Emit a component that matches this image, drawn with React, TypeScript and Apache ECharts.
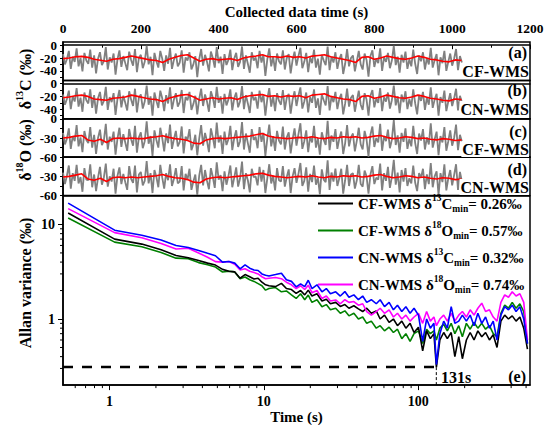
import React, { useEffect, useRef } from "react";
import * as echarts from "echarts";

const FONT = "'Liberation Serif', 'DejaVu Serif', serif";

// ---- time-series panels (a)-(d) ----
const grayStep = 5; // s between plotted raw samples
const redStep = 16; // s between plotted smoothed samples
const timeMax = 1200;
const timeInterval = 200;

const grayA = [
  -14,-30,-22,-9,-37,-18,-26,-5,-33,-20,-41,-12,-24,-29,-7,-35,-16,-44,-21,-11,
  -31,-25,-3,-38,-19,-27,-13,-46,-22,-8,-34,-17,-28,-39,-10,-23,-32,-6,-42,-20,
  -15,-36,-26,-1,-30,-18,-47,-12,-25,-35,-9,-21,-40,-16,-29,-4,-37,-23,-13,-33,
  -27,-8,-43,-19,-24,-11,-38,-30,-17,-50,-22,-6,-32,-15,-26,-41,-10,-20,-35,-3,
  -28,-18,-45,-14,-31,-23,-7,-39,-21,-12,-34,-26,-2,-37,-16,-29,-43,-11,-24,-19,
  -36,-9,-27,-15,-48,-22,-5,-33,-18,-40,-13,-25,-30,-8,-38,-20,-14,-44,-23,-10,
  -32,-17,-4,-36,-26,-12,-42,-19,-28,-7,-35,-21,-46,-15,-24,-31,-2,-39,-18,-27,
  -11,-37,-22,-14,-45,-29,-6,-33,-20,-16,-41,-25,-9,-30,-38,-13,-23,-49,-17,-8,
  -34,-21,-28,-5,-40,-19,-26,-12,-36,-24,-1,-31,-18,-43,-15,-27,-10,-37,-22,-33,
  -7,-29,-45,-16,-25,-11,-38,-20,-30,-4,-35,-23,-14,-47,-19,-28,-9,-40,-26,-13,
  -32,-21,-6,-39,-17,-27,
];
const grayB = [
  -17,-33,-24,-11,-40,-20,-28,-7,-36,-22,-44,-14,-26,-31,-9,-38,-18,-47,-23,-13,
  -34,-27,-5,-41,-21,-29,-15,-49,-24,-10,-37,-19,-30,-42,-12,-25,-35,-8,-45,-22,
  -17,-39,-28,-3,-33,-20,-50,-14,-27,-38,-11,-23,-43,-18,-31,-6,-40,-25,-15,-36,
  -29,-10,-46,-21,-26,-13,-41,-32,-19,-48,-24,-8,-35,-17,-28,-44,-12,-22,-38,-5,
  -30,-20,-47,-16,-34,-25,-9,-42,-23,-14,-37,-28,-4,-40,-18,-31,-46,-13,-26,-21,
  -39,-11,-29,-17,-50,-24,-7,-36,-20,-43,-15,-27,-33,-10,-41,-22,-16,-47,-25,-12,
  -35,-19,-6,-39,-28,-14,-45,-21,-30,-9,-38,-23,-49,-17,-26,-34,-4,-42,-20,-29,
  -13,-40,-24,-16,-48,-31,-8,-36,-22,-18,-44,-27,-11,-33,-41,-15,-25,-50,-19,-10,
  -37,-23,-30,-7,-43,-21,-28,-14,-39,-26,-3,-34,-20,-46,-17,-29,-12,-40,-24,-36,
  -9,-31,-48,-18,-27,-13,-41,-22,-33,-6,-38,-25,-16,-50,-21,-30,-11,-43,-28,-15,
  -35,-23,-8,-42,-19,-29,
];
const grayC = [
  -22,-40,-31,-15,-47,-27,-35,-10,-43,-29,-52,-19,-33,-38,-13,-45,-25,-55,-30,-17,
  -41,-34,-8,-48,-28,-36,-20,-56,-31,-14,-44,-24,-37,-50,-16,-32,-42,-11,-53,-29,
  -21,-46,-35,-4,-39,-27,-58,-18,-33,-45,-14,-30,-51,-23,-38,-9,-47,-32,-19,-43,
  -36,-12,-54,-28,-33,-16,-49,-40,-25,-57,-31,-10,-42,-22,-35,-52,-15,-29,-46,-6,
  -37,-26,-55,-20,-41,-32,-11,-49,-30,-18,-44,-35,-5,-48,-23,-38,-53,-16,-33,-28,
  -46,-13,-36,-22,-58,-31,-9,-43,-27,-50,-19,-34,-40,-12,-48,-29,-21,-54,-32,-15,
  -42,-24,-7,-47,-35,-18,-52,-28,-37,-11,-45,-30,-56,-21,-33,-41,-3,-49,-26,-36,
  -16,-47,-31,-20,-55,-38,-10,-43,-29,-23,-51,-34,-14,-40,-48,-19,-32,-59,-25,-12,
  -44,-30,-37,-8,-50,-27,-35,-17,-46,-33,-2,-41,-26,-53,-22,-36,-15,-47,-31,-43,
  -11,-38,-55,-23,-34,-16,-48,-29,-40,-7,-45,-32,-20,-57,-27,-37,-13,-50,-35,-18,
  -42,-30,-9,-49,-25,-36,
];
const grayD = [
  -24,-42,-29,-13,-49,-25,-37,-12,-41,-31,-54,-17,-35,-36,-11,-47,-27,-53,-32,-15,
  -43,-32,-10,-46,-30,-38,-18,-57,-29,-16,-42,-26,-39,-51,-14,-34,-40,-13,-55,-27,
  -23,-44,-37,-6,-41,-25,-56,-20,-31,-47,-12,-32,-49,-25,-36,-11,-45,-34,-17,-41,
  -38,-14,-52,-26,-35,-18,-51,-38,-27,-59,-29,-12,-44,-20,-37,-50,-17,-31,-48,-8,
  -35,-28,-53,-22,-43,-30,-13,-47,-32,-16,-46,-33,-7,-50,-25,-36,-55,-18,-31,-30,
  -44,-15,-38,-20,-56,-33,-11,-41,-29,-52,-17,-36,-38,-14,-46,-31,-19,-56,-30,-17,
  -40,-26,-9,-45,-37,-16,-54,-26,-39,-13,-43,-32,-58,-19,-35,-39,-5,-51,-24,-38,
  -18,-45,-33,-18,-57,-36,-12,-45,-27,-25,-49,-36,-12,-42,-46,-21,-30,-57,-27,-14,
  -42,-32,-35,-10,-52,-25,-37,-15,-48,-31,-4,-43,-24,-55,-20,-38,-17,-45,-33,-41,
  -13,-40,-53,-25,-32,-18,-50,-27,-42,-9,-47,-30,-22,-59,-25,-39,-11,-52,-33,-20,
  -44,-28,-11,-51,-23,-38,
];

const redA = [
  -21,-20,-18,-17.5,-19,-22,-23.5,-25,-22,-21,
  -19,-17,-19,-21,-23,-24,-27,-22,-19,-16,
  -15,-20,-25,-22,-21,-23,-22,-21,-24,-20,
  -18,-17,-15,-18,-18,-19,-17,-19,-18,-20,
  -17,-16,-15,-18,-20,-22,-24,-27,-19,-18,
  -22,-20,-17,-19,-21,-22,-20,-17,-19,-22,
  -23,-25,-26,-23,-24,
];
const redB = [
  -22,-21,-19,-18,-20,-24,-25,-26,-23,-22,
  -21,-18,-20,-22,-24,-25,-28,-23,-20,-18,
  -17,-21,-26,-24,-22,-24,-23,-22,-25,-21,
  -19,-18,-17,-20,-19,-21,-19,-20,-19,-22,
  -18,-17,-16,-20,-22,-24,-25,-28,-20,-19,
  -23,-21,-18,-20,-22,-23,-21,-18,-20,-23,
  -24,-26,-27,-24,-25,
];
const redC = [
  -30,-29,-27,-26,-33,-35,-32,-37,-31,-30,
  -31,-30,-31,-31,-29,-28,-26.5,-29,-31,-32,
  -34,-38,-39,-33,-31,-30,-31,-30,-29,-28,
  -27,-25,-23,-27,-29,-30,-31,-30,-29,-30,
  -28,-30,-31,-29,-30,-28,-29,-28,-30,-29,
  -27,-26,-29,-31,-30,-28,-29,-31,-30,-32,
  -33,-31,-32,-34,-33,
];
const redD = [
  -31,-30,-28,-26,-34,-36,-33,-38,-32,-31,
  -32,-31,-32,-31,-30,-29,-27,-30,-32,-33,
  -35,-39,-40,-34,-32,-31,-32,-31,-30,-29,
  -28,-26,-25,-28,-30,-31,-32,-31,-30,-31,
  -29,-31,-32,-30,-31,-29,-30,-29,-31,-30,
  -28,-27,-30,-32,-31,-29,-30,-32,-31,-33,
  -34,-32,-33,-35,-34,
];

// y ranges and tick labels of the panels
const c13Range = [-55, 5];
const c13Labels = [0, -20, -40];
const c13Ticks = [0, -10, -20, -30, -40, -50];
const o18Range = [-60, 0];
const o18LabelsC = [0, -30, -60];
const o18LabelsD = [-30, -60];
const o18Ticks = [0, -15, -30, -45, -60];

// ---- Allan variance panel (e) ----
const tau = [
  0.54, 1.08, 1.62, 2.16, 2.70, 3.24, 3.78, 4.32, 4.86, 5.40,
  5.94, 6.48, 7.02, 7.56, 8.10, 8.64, 9.18, 9.72, 10.26, 10.8,
  11.9, 13.0, 14.0, 15.1, 16.2, 17.3, 18.4, 19.4, 20.5, 22.1,
  23.8, 25.4, 27.0, 29.2, 31.3, 33.5, 35.6, 38.3, 41.0, 43.7,
  46.4, 49.7, 53.5, 56.7, 60.5, 64.8, 69.1, 73.4, 78.3, 83.2,
  88.6, 94.0, 100.4, 106.9, 113.4, 119.9, 126.4, 131.2, 138.2, 146.3,
  154.4, 163.6, 172.8, 183.1, 193.3, 205.2, 217.1, 230.0, 243.5, 258.1,
  273.2, 289.4, 306.2, 324.0, 343.4, 363.4, 384.5, 406.6, 430.4, 455.8,
  482.8, 510.3,
];
const allanCF13 = [
  13.2, 7.0, 6.2, 5.4, 4.7, 4.45, 4.15, 3.9, 3.72, 3.35,
  3.2, 3.15, 2.7, 2.95, 2.8, 2.65, 2.7, 2.45, 2.3, 2.25,
  2.2, 2.38, 2.1, 2.05, 1.87, 2.0, 1.8, 2.02, 1.75, 1.85,
  1.55, 1.62, 1.45, 1.5, 1.36, 1.42, 1.3, 1.38, 1.28, 1.2,
  1.3, 1.15, 1.22, 1.0, 1.1, 0.92, 1.0, 0.85, 0.95, 0.8,
  0.9, 0.72, 0.82, 0.46, 0.75, 0.62, 0.7, 0.31, 0.6, 0.72,
  0.62, 0.72, 0.4, 0.65, 0.38, 0.6, 0.72, 0.6, 0.75, 0.65,
  0.72, 0.6, 0.68, 0.5, 0.95, 1.1, 1.0, 1.08, 0.95, 1.05,
  0.8, 0.48,
];
const allanCF18 = [
  11.7, 6.5, 5.8, 5.05, 4.4, 4.35, 3.95, 3.75, 3.54, 3.14,
  3.2, 3.15, 2.67, 2.78, 2.6, 2.5, 2.37, 2.25, 2.02, 2.1,
  2.15, 1.94, 1.98, 1.8, 1.65, 1.85, 1.6, 1.79, 1.5, 1.6,
  1.35, 1.42, 1.25, 1.3, 1.15, 1.22, 1.08, 1.15, 1.0, 1.05,
  0.9, 0.95, 0.8, 0.85, 0.75, 0.82, 0.72, 0.78, 0.62, 0.7,
  0.58, 0.7, 0.75, 0.55, 0.78, 0.7, 0.75, 0.6, 0.8, 0.88,
  0.75, 0.9, 0.7, 0.85, 0.65, 0.9, 0.78, 0.92, 0.8, 0.9,
  0.78, 0.85, 0.7, 0.65, 1.15, 1.4, 1.3, 1.5, 1.3, 1.45,
  1.2, 0.55,
];
const allanCN13 = [
  16.8, 8.7, 7.7, 6.85, 6.0, 5.7, 5.3, 4.95, 4.67, 4.0,
  4.05, 3.9, 3.4, 3.74, 3.45, 3.3, 3.26, 3.0, 2.9, 2.85,
  2.95, 3.05, 2.6, 2.5, 2.19, 2.35, 2.2, 2.57, 2.1, 2.3,
  1.94, 2.1, 1.85, 1.94, 1.75, 1.95, 1.7, 1.8, 1.6, 1.75,
  1.5, 1.6, 1.45, 1.6, 1.35, 1.5, 1.25, 1.4, 1.2, 1.35,
  1.15, 1.3, 1.1, 0.58, 1.0, 0.8, 0.9, 0.33, 0.7, 0.95,
  0.8, 1.35, 0.9, 0.95, 1.1, 0.95, 1.1, 0.85, 1.15, 0.9,
  1.05, 0.8, 0.95, 0.6, 1.1, 1.35, 1.25, 1.4, 1.2, 1.35,
  1.0, 0.55,
];
const allanCN18 = [
  14.7, 8.2, 7.25, 6.3, 5.5, 5.6, 5.0, 4.5, 4.05, 4.0,
  4.05, 3.8, 3.3, 3.4, 3.2, 3.1, 3.0, 2.8, 2.67, 2.7,
  2.75, 2.67, 2.45, 2.3, 2.1, 2.25, 2.05, 2.28, 1.9, 2.0,
  1.65, 1.75, 1.55, 1.59, 1.45, 1.6, 1.5, 1.53, 1.4, 1.45,
  1.2, 1.1, 1.2, 1.3, 1.15, 1.25, 1.05, 1.15, 1.0, 1.1,
  0.95, 1.05, 1.15, 0.9, 1.2, 0.95, 1.05, 0.85, 1.0, 1.1,
  0.95, 1.15, 0.95, 1.1, 1.2, 1.05, 1.25, 1.1, 1.3, 1.47,
  1.2, 1.25, 1.05, 0.95, 1.5, 1.8, 1.7, 1.94, 1.75, 1.85,
  1.5, 0.6,
];
const tauRange = [0.5, 530];
const allanRange = [0.2, 20];
const minLevel = 0.31;
const minTau = 131;
const xMinorTicks = [0.6, 0.7, 0.8, 0.9, 2, 3, 4, 5, 6, 7, 8, 9, 20, 30, 40, 50, 60, 70, 80, 90, 200, 300, 400, 500];
const yMinorTicks = [0.3, 0.4, 0.5, 0.6, 0.7, 0.8, 0.9, 2, 3, 4, 5, 6, 7, 8, 9];

const allanNames = ["CF-WMS d13C", "CF-WMS d18O", "CN-WMS d13C", "CN-WMS d18O"];
const allanColors = ["#000000", "#008000", "#0000ff", "#ff00ff"];
const allanData = [allanCF13, allanCF18, allanCN13, allanCN18];
const legendTexts = [
  "{n|CF-WMS δ}{sup|13}{n|C}{sub|min}{n|= 0.26‰}",
  "{n|CF-WMS δ}{sup|18}{n|O}{sub|min}{n|= 0.57‰}",
  "{n|CN-WMS δ}{sup|13}{n|C}{sub|min}{n|= 0.32‰}",
  "{n|CN-WMS δ}{sup|18}{n|O}{sub|min}{n|= 0.74‰}",
];

const panelTops = [42, 80.4, 118.8, 157.2];
const panelH = 38.4;

function buildOption() {
  const grids: any[] = panelTops.map((t) => ({
    left: 63, right: 20, top: t, height: panelH,
    show: true, borderColor: "#000", borderWidth: 1.5,
  }));
  grids.push({ left: 63, right: 20, top: 196, height: 191, show: true, borderColor: "#000", borderWidth: 1.5 });

  const labelStyle = { fontFamily: FONT, fontWeight: "bold", fontSize: 14, color: "#000" };

  const xAxes: any[] = panelTops.map((_, i) => ({
    gridIndex: i, type: "value", min: 0, max: timeMax, interval: timeInterval,
    position: i === 0 ? "top" : "bottom",
    axisLine: { show: true, lineStyle: { color: "#000", width: 1.5 } },
    axisTick: { show: i === 0, inside: true, length: 4, lineStyle: { color: "#000" } },
    minorTick: { show: i === 0, splitNumber: 2, length: 2.5, lineStyle: { color: "#000" } },
    axisLabel: { show: i === 0, ...labelStyle, fontSize: 13.5, margin: 7, formatter: (v: number) => String(v) },
    splitLine: { show: false },
    name: i === 0 ? "Collected data time (s)" : "",
    nameLocation: "middle", nameGap: 23,
    nameTextStyle: { fontFamily: FONT, fontWeight: "bold", fontSize: 15, color: "#000" },
  }));
  xAxes.push({
    gridIndex: 4, type: "log", logBase: 10, min: tauRange[0], max: tauRange[1],
    axisLine: { show: true, lineStyle: { color: "#000", width: 1.5 } },
    axisTick: { show: true, inside: false, length: 5, lineStyle: { color: "#000" } },
    axisLabel: { ...labelStyle, margin: 9, showMinLabel: false, showMaxLabel: false },
    splitLine: { show: false },
    name: "Time (s)", nameLocation: "middle", nameGap: 22,
    nameTextStyle: { fontFamily: FONT, fontWeight: "bold", fontSize: 15, color: "#000" },
  });

  const yDefs = [
    { range: c13Range, labels: c13Labels, ticks: c13Ticks },
    { range: c13Range, labels: c13Labels, ticks: c13Ticks },
    { range: o18Range, labels: o18LabelsC, ticks: o18Ticks },
    { range: o18Range, labels: o18LabelsD, ticks: o18Ticks },
  ];
  const yAxes: any[] = yDefs.map((d, i) => ({
    gridIndex: i, type: "value", min: d.range[0], max: d.range[1],
    axisLine: { show: true, lineStyle: { color: "#000", width: 1.5 } },
    axisTick: { show: true, inside: false, length: 3, customValues: d.ticks, lineStyle: { color: "#000" } },
    axisLabel: { show: false },
    splitLine: { show: false },
  }));
  yAxes.push({
    gridIndex: 4, type: "log", logBase: 10, min: allanRange[0], max: allanRange[1],
    axisLine: { show: true, lineStyle: { color: "#000", width: 1.5 } },
    axisTick: { show: true, inside: false, length: 5, lineStyle: { color: "#000" } },
    axisLabel: { ...labelStyle, margin: 8, showMinLabel: false, showMaxLabel: false },
    splitLine: { show: false },
  });

  const grays = [grayA, grayB, grayC, grayD];
  const reds = [redA, redB, redC, redD];
  const series: any[] = [];
  grays.forEach((g, i) => {
    series.push({
      type: "line", xAxisIndex: i, yAxisIndex: i, symbol: "none",
      data: g.map((v, k) => [k * grayStep, v]),
      lineStyle: { color: "#808080", width: 1.8 }, z: 2, silent: true,
    });
  });
  reds.forEach((r, i) => {
    series.push({
      type: "line", xAxisIndex: i, yAxisIndex: i, symbol: "none",
      data: r.map((v, k) => [k * redStep, v]),
      lineStyle: { color: "#ff0000", width: 1.6 }, z: 3, silent: true,
    });
  });
  // y tick labels of the four time panels, placed through each panel's scale
  yDefs.forEach((d, i) => {
    series.push({
      type: "custom", xAxisIndex: i, yAxisIndex: i, silent: true, clip: false, z: 5,
      data: d.labels.map((v) => [0, v]),
      renderItem: (_p: any, api: any) => {
        const v = api.value(1);
        const c = api.coord([api.value(0), v]);
        return {
          type: "text", x: c[0] - 6, y: c[1],
          style: { text: String(v), fill: "#000", font: `bold 13px ${FONT}`, lineHeight: 10, align: "right", verticalAlign: "middle" },
        };
      },
    });
  });
  const order = [1, 0, 3, 2];
  order.forEach((idx) => {
    series.push({
      name: allanNames[idx], type: "line", xAxisIndex: 4, yAxisIndex: 4, symbol: "none",
      data: tau.map((t, k) => [t, allanData[idx][k]]),
      lineStyle: { color: allanColors[idx], width: 1.6 }, itemStyle: { color: allanColors[idx] },
      z: 3,
    });
  });
  series.push({
    type: "line", xAxisIndex: 4, yAxisIndex: 4, symbol: "none",
    data: [[tauRange[0], minLevel], [minTau, minLevel]],
    lineStyle: { color: "#000", width: 2.5, type: [10, 9] }, z: 4,
  });
  series.push({
    type: "line", xAxisIndex: 4, yAxisIndex: 4, symbol: "none",
    data: [[minTau, minLevel], [minTau, allanRange[0]]],
    lineStyle: { color: "#000", width: 1, type: [3, 2] }, z: 4,
  });
  series.push({
    type: "custom", xAxisIndex: 4, yAxisIndex: 4, silent: true,
    data: xMinorTicks.map((v) => [v, allanRange[0]]),
    renderItem: (_p: any, api: any) => {
      const p = api.coord([api.value(0), api.value(1)]);
      return { type: "line", shape: { x1: p[0], y1: p[1], x2: p[0], y2: p[1] + 3 }, style: { stroke: "#000", lineWidth: 1 } };
    },
  });
  series.push({
    type: "custom", xAxisIndex: 4, yAxisIndex: 4, silent: true,
    data: yMinorTicks.map((v) => [tauRange[0], v]),
    renderItem: (_p: any, api: any) => {
      const p = api.coord([api.value(0), api.value(1)]);
      return { type: "line", shape: { x1: p[0] - 3, y1: p[1], x2: p[0], y2: p[1] }, style: { stroke: "#000", lineWidth: 1 } };
    },
  });

  const legendMap: Record<string, string> = {};
  allanNames.forEach((n, i) => (legendMap[n] = legendTexts[i]));

  const richTitle = {
    n: { fontFamily: FONT, fontWeight: "bold", fontSize: 16, lineHeight: 22, verticalAlign: "middle", color: "#000", fill: "#000" },
    sup: { fontFamily: FONT, fontWeight: "bold", fontSize: 10, lineHeight: 11, verticalAlign: "top", color: "#000", fill: "#000" },
  };
  const richLegend = {
    n: { fontFamily: FONT, fontWeight: "bold", fontSize: 15, lineHeight: 21, verticalAlign: "middle", color: "#000" },
    sup: { fontFamily: FONT, fontWeight: "bold", fontSize: 9.5, lineHeight: 10, verticalAlign: "top", color: "#000" },
    sub: { fontFamily: FONT, fontWeight: "bold", fontSize: 9.5, lineHeight: 9, verticalAlign: "bottom", color: "#000" },
  };

  const txt = (text: string, x: number, y: number, extra: any = {}) => ({
    type: "text", x, y, z: 100,
    style: {
      text, fill: "#000", font: `bold 16px ${FONT}`, align: "right", verticalAlign: "middle", ...extra,
    },
  });

  const graphic: any[] = [
    txt("(a)", 527, 52),
    txt("CF-WMS", 529, 71, { backgroundColor: "#fff", padding: [0, 0, 0, 1] }),
    txt("(b)", 527, 90),
    txt("CN-WMS", 529, 109, { backgroundColor: "#fff", padding: [0, 0, 0, 1] }),
    txt("(c)", 527, 131),
    txt("CF-WMS", 529, 149, { backgroundColor: "#fff", padding: [0, 0, 0, 1] }),
    txt("(d)", 527, 169),
    txt("CN-WMS", 529, 187, { backgroundColor: "#fff", padding: [0, 0, 0, 1] }),
    txt("(e)", 526, 376),
    txt("131s", 441, 377, { align: "left" }),
    {
      type: "text", x: 25, y: 79, rotation: Math.PI / 2, z: 100,
      style: { text: "{n|δ}{sup|13}{n|C (‰)}", rich: richTitle, align: "center", verticalAlign: "middle" },
    },
    {
      type: "text", x: 25, y: 150, rotation: Math.PI / 2, z: 100,
      style: { text: "{n|δ}{sup|18}{n|O (‰)}", rich: richTitle, align: "center", verticalAlign: "middle" },
    },
    {
      type: "text", x: 25, y: 283, rotation: Math.PI / 2, z: 100,
      style: { text: "{n|Allan variance (‰)}", rich: richTitle, align: "center", verticalAlign: "middle" },
    },
  ];

  return {
    animation: false,
    backgroundColor: "#fff",
    textStyle: { fontFamily: FONT },
    grid: grids,
    xAxis: xAxes,
    yAxis: yAxes,
    series,
    legend: {
      orient: "vertical", left: 313, top: 188, itemWidth: 35, itemHeight: 2, itemGap: 6,
      data: allanNames, icon: "rect",
      formatter: (name: string) => legendMap[name],
      textStyle: { fontFamily: FONT, fontWeight: "bold", fontSize: 15, color: "#000", rich: richLegend },
      selectedMode: false,
    },
    graphic,
  };
}

export default function App() {
  const ref = useRef<HTMLDivElement>(null);
  useEffect(() => {
    if (!ref.current) return;
    const chart = echarts.init(ref.current, null, { renderer: "svg" });
    chart.setOption(buildOption() as any);
    return () => chart.dispose();
  }, []);
  return <div ref={ref} style={{ position: "fixed", left: 0, top: 0, width: 550, height: 425 }} />;
}
